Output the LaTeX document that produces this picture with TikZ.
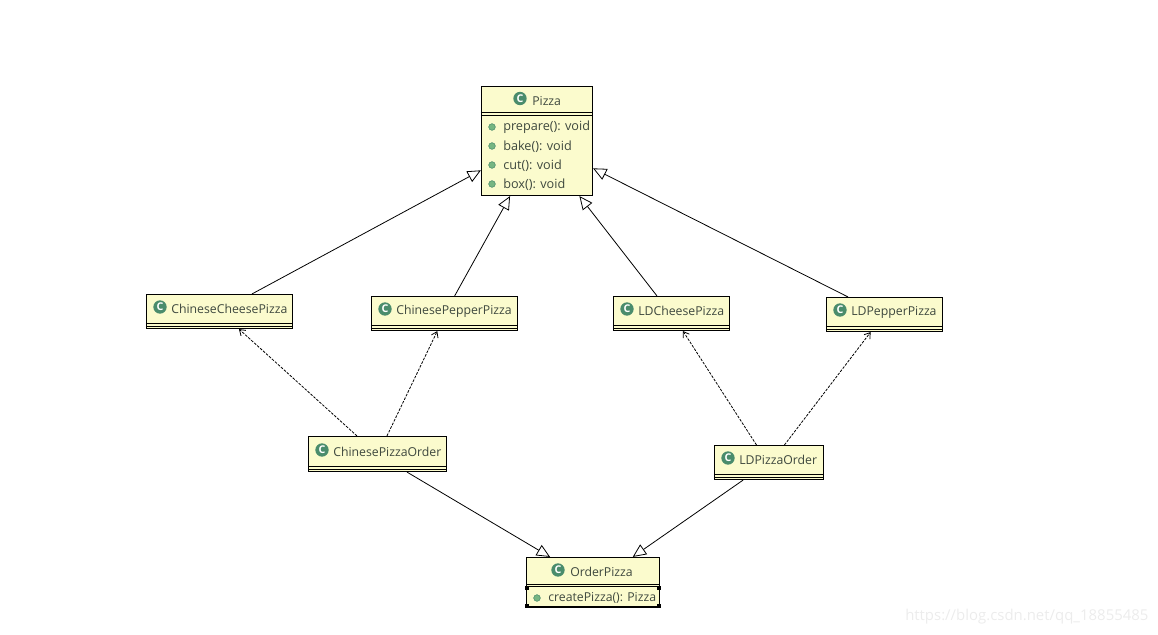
\documentclass[tikz,border=0pt]{standalone}
\usepackage{fontspec}
\setmainfont{Open Sans}
\usetikzlibrary{arrows.meta,positioning}
\definecolor{classyellow}{RGB}{251,251,205}
\definecolor{classtext}{RGB}{62,72,62}
\definecolor{icongreen}{RGB}{74,140,108}
\definecolor{dotgreen}{RGB}{118,182,130}
\definecolor{marklight}{RGB}{236,236,236}
\tikzset{
    classbox/.style={draw=black, fill=classyellow, line width=0.85pt, rectangle, inner sep=0pt},
    rule/.style={line width=0.75pt},
    classname/.style={anchor=west, inner sep=0pt, text=classtext, font=\fontsize{9.2pt}{11pt}\selectfont},
    membername/.style={anchor=west, inner sep=0pt, text=classtext, font=\fontsize{9.5pt}{11pt}\selectfont},
    classicon/.style={circle, fill=icongreen, inner sep=0pt, minimum size=10pt, text=white, font=\fontsize{8pt}{8pt}\selectfont\bfseries},
    memberdot/.style={circle, draw=icongreen, fill=dotgreen, inner sep=0pt, minimum size=5pt},
    handle/.style={fill=black, inner sep=0pt, minimum size=3.5pt},
    extends/.style={-{Triangle[open,length=10pt,width=9pt]}, black, line width=0.6pt},
    uses/.style={-{Straight Barb[length=4pt,width=5.5pt]}, black, line width=0.6pt, dash pattern=on 2pt off 1pt}
}
\begin{document}
\begin{tikzpicture}[x=0.75pt, y=-0.75pt]
    \useasboundingbox (0,0) rectangle (1158,635);

    % Pizza
    \node[classbox, minimum width=83.25pt, minimum height=81.75pt] (pizza) at (537,141) {};
    \draw[rule] ([yshift=-20.25pt]pizza.north west) -- ([yshift=-20.25pt]pizza.north east);
    \draw[rule] ([yshift=-22.5pt]pizza.north west) -- ([yshift=-22.5pt]pizza.north east);
    \node[classicon] (pizza-icon) at (520,98.5) {C};
    \node[classname] (pizza-name) at (532,101) {Pizza};
    \node[memberdot] (prepare-dot) at (492,127) {};
    \node[membername] (prepare) at (503,127.5) {prepare(): void};
    \node[memberdot] (bake-dot) at (492,146) {};
    \node[membername] (bake) at (503,146.5) {bake(): void};
    \node[memberdot] (cut-dot) at (492,165) {};
    \node[membername] (cut) at (503,165.5) {cut(): void};
    \node[memberdot] (box-dot) at (492,184) {};
    \node[membername] (box) at (503,184.5) {box(): void};

    % Pizza kinds
    \node[classbox, minimum width=109.5pt, minimum height=25.5pt] (cheese) at (219.5,311.5) {};
    \draw[rule] ([yshift=4.5pt]cheese.south west) -- ([yshift=4.5pt]cheese.south east);
    \draw[rule] ([yshift=2.25pt]cheese.south west) -- ([yshift=2.25pt]cheese.south east);
    \node[classicon] (cheese-icon) at (160,307) {C};
    \node[classname] (cheese-name) at (171,309) {ChineseCheesePizza};

    \node[classbox, minimum width=109.5pt, minimum height=25.5pt] (pepper) at (444.5,313.5) {};
    \draw[rule] ([yshift=4.5pt]pepper.south west) -- ([yshift=4.5pt]pepper.south east);
    \draw[rule] ([yshift=2.25pt]pepper.south west) -- ([yshift=2.25pt]pepper.south east);
    \node[classicon] (pepper-icon) at (385,309) {C};
    \node[classname] (pepper-name) at (396,311) {ChinesePepperPizza};

    \node[classbox, minimum width=87pt, minimum height=25.5pt] (ldcheese) at (671.5,313.5) {};
    \draw[rule] ([yshift=4.5pt]ldcheese.south west) -- ([yshift=4.5pt]ldcheese.south east);
    \draw[rule] ([yshift=2.25pt]ldcheese.south west) -- ([yshift=2.25pt]ldcheese.south east);
    \node[classicon] (ldcheese-icon) at (627,309) {C};
    \node[classname] (ldcheese-name) at (638,311) {LDCheesePizza};

    \node[classbox, minimum width=87pt, minimum height=25.5pt] (ldpepper) at (884.5,314.5) {};
    \draw[rule] ([yshift=4.5pt]ldpepper.south west) -- ([yshift=4.5pt]ldpepper.south east);
    \draw[rule] ([yshift=2.25pt]ldpepper.south west) -- ([yshift=2.25pt]ldpepper.south east);
    \node[classicon] (ldpepper-icon) at (840,310) {C};
    \node[classname] (ldpepper-name) at (851,312) {LDPepperPizza};

    % Orders
    \node[classbox, minimum width=103.5pt, minimum height=26.25pt] (cnorder) at (377.5,454) {};
    \draw[rule] ([yshift=4.5pt]cnorder.south west) -- ([yshift=4.5pt]cnorder.south east);
    \draw[rule] ([yshift=2.25pt]cnorder.south west) -- ([yshift=2.25pt]cnorder.south east);
    \node[classicon] (cnorder-icon) at (322,450) {C};
    \node[classname] (cnorder-name) at (333,452) {ChinesePizzaOrder};

    \node[classbox, minimum width=81.75pt, minimum height=25.5pt] (ldorder) at (769,462.5) {};
    \draw[rule] ([yshift=4.5pt]ldorder.south west) -- ([yshift=4.5pt]ldorder.south east);
    \draw[rule] ([yshift=2.25pt]ldorder.south west) -- ([yshift=2.25pt]ldorder.south east);
    \node[classicon] (ldorder-icon) at (728,458) {C};
    \node[classname] (ldorder-name) at (739,460) {LDPizzaOrder};

    % OrderPizza
    \node[classbox, minimum width=99.75pt, minimum height=37.5pt] (order) at (593,582.5) {};
    \draw[rule] ([yshift=-21pt]order.north west) -- ([yshift=-21pt]order.north east);
    \draw[rule] ([yshift=-22.5pt]order.north west) -- ([yshift=-22.5pt]order.north east);
    \draw[rule] ([yshift=1.5pt]order.south west) -- ([yshift=1.5pt]order.south east);
    \node[classicon] (order-icon) at (558,570) {C};
    \node[classname] (order-name) at (570,572) {OrderPizza};
    \node[memberdot] (create-dot) at (537,598) {};
    \node[classname] (create) at (548,598) {createPizza(): Pizza};
    \node[handle] (h1) at (527,588) {};
    \node[handle] (h2) at (659,588) {};
    \node[handle] (h3) at (527,606) {};
    \node[handle] (h4) at (659,606) {};

    % Inheritance
    \draw[extends] ([xshift=24.4pt]cheese.north) -- ([yshift=-22pt]pizza.west);
    \draw[extends] ([xshift=7.6pt]pepper.north) -- ([xshift=-20.2pt]pizza.south);
    \draw[extends] ([xshift=-10.9pt]ldcheese.north) -- ([xshift=31.8pt]pizza.south);
    \draw[extends] ([xshift=-27.4pt]ldpepper.north) -- ([yshift=-20.5pt]pizza.east);

    % Dependencies
    \draw[uses] ([xshift=-15.4pt]cnorder.north) -- ([xshift=14.6pt]cheese.south);
    \draw[uses] ([xshift=7.1pt]cnorder.north) -- ([xshift=-5.4pt]pepper.south);
    \draw[uses] ([xshift=-9.4pt]ldorder.north) -- ([xshift=8.6pt]ldcheese.south);
    \draw[uses] ([xshift=11.6pt]ldorder.north) -- ([xshift=-10.4pt]ldpepper.south);

    % Order realisations
    \draw[extends] ([xshift=22.1pt]cnorder.south) -- ([xshift=-32.2pt]order.north);
    \draw[extends] ([xshift=-19.4pt]ldorder.south) -- ([xshift=29.8pt]order.north);

    % Watermark
    \node[anchor=west, inner sep=0pt, text=marklight, font=\fontsize{11.2pt}{13pt}\selectfont] (mark) at (905,617) {https://blog.csdn.net/qq\_18855485};
\end{tikzpicture}
\end{document}
